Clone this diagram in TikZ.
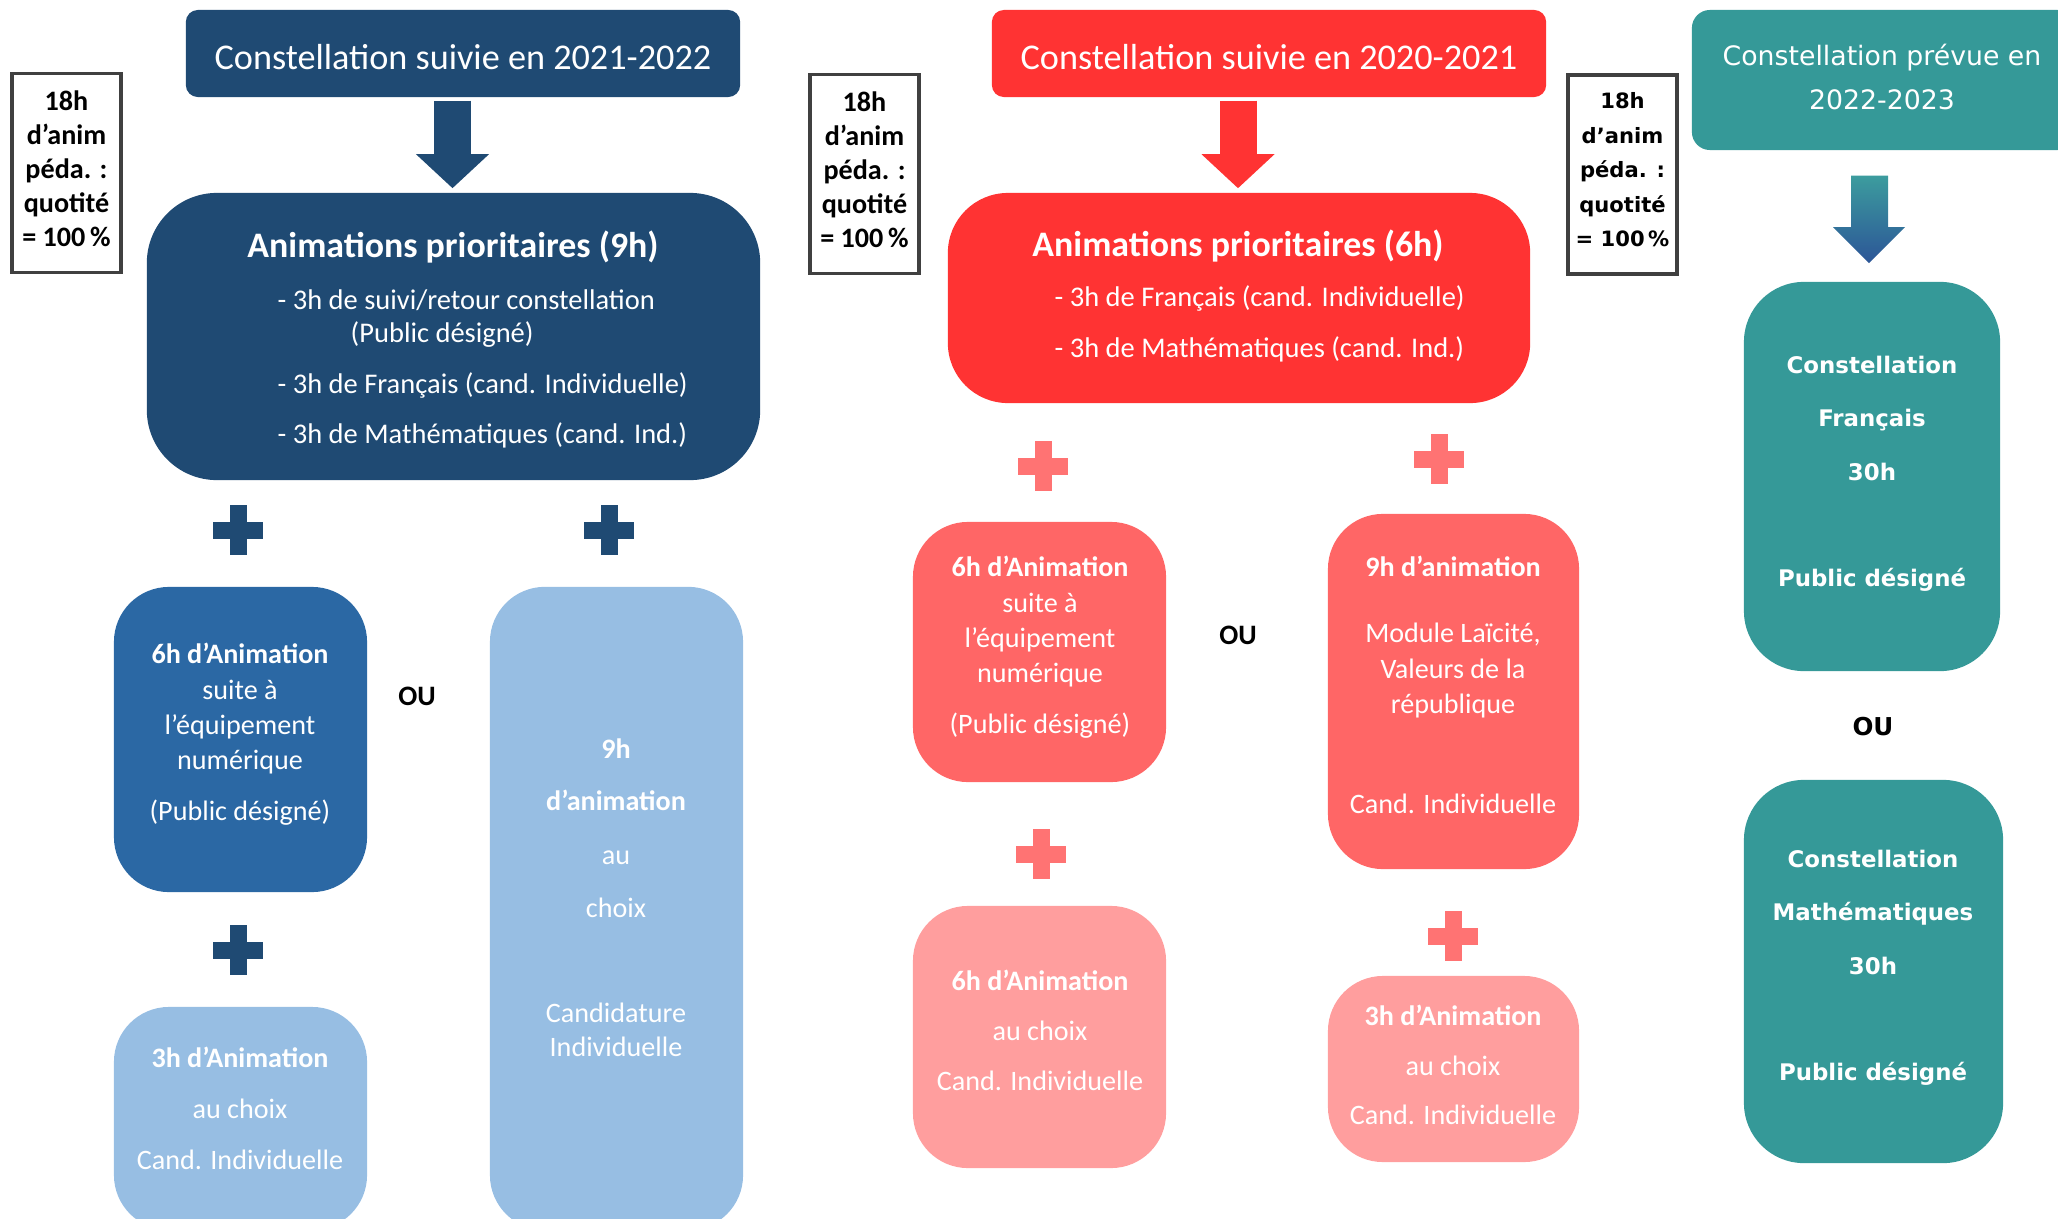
\documentclass[tikz,border=0pt]{standalone}
\usepackage{fontspec}
\setmainfont{Carlito}
\newfontfamily\verdfont{DejaVu Sans}
\usepackage{tikz}
\usetikzlibrary{arrows.meta}
\usetikzlibrary{positioning}

\definecolor{navy}{RGB}{31,74,115}
\definecolor{midblue}{RGB}{43,104,164}
\definecolor{paleblue}{RGB}{151,190,227}
\definecolor{redhead}{RGB}{255,51,51}
\definecolor{redbox}{RGB}{255,102,102}
\definecolor{pinkbox}{RGB}{255,158,158}
\definecolor{redplus}{RGB}{255,115,115}
\definecolor{tealbox}{RGB}{53,153,152}
\definecolor{tealtop}{RGB}{60,156,158}
\definecolor{tealbot}{RGB}{44,85,151}

\newcommand{\fnthead}{\fontsize{10.3}{12}\selectfont}
\newcommand{\fnttitle}{\bfseries\fontsize{10.2}{12}\selectfont}
\newcommand{\fntitem}{\fontsize{8.1}{9.4}\selectfont}
\newcommand{\fntsmall}{\fontsize{8}{10}\selectfont}
\newcommand{\fntquota}{\bfseries\fontsize{8}{9.7}\selectfont}
\newcommand{\fntquotab}{\verdfont\bfseries\fontsize{6}{9.8}\selectfont}
\newcommand{\fnttealhd}{\verdfont\fontsize{7.6}{12.5}\selectfont}
\newcommand{\fntteal}{\verdfont\bfseries\fontsize{6.5}{15.2}\selectfont}

\begin{document}
\begin{tikzpicture}
	[x=0.01cm,y=-0.01cm,
	box/.style={rounded corners=0.55cm,inner sep=0pt},
	headbox/.style={rounded corners=0.12cm,inner sep=0pt},
	quota/.style={draw=black!75,line width=1pt,fill=white,inner sep=0pt,minimum width=1.09cm,minimum height=1.99cm},
	txt/.style={text=white,align=center,inner sep=0pt},
	bigarrow/.style={line width=0.37cm,-{Triangle[length=0.34cm,width=0.71cm]}},
	plusmark/.pic={\fill (-25,-8.5) rectangle (25,8.5); \fill (-8.5,-25) rectangle (8.5,25);}]
	\useasboundingbox (0,0) rectangle (2058,1218);
	
	% 2021-2022
	\node[headbox,fill=navy,minimum width=5.54cm,minimum height=0.87cm] (hdr1) at (463,53.5) {};
	\node[txt,font=\fnthead] (hdr1t) at (463,57) {Constellation suivie en 2021-2022};
	\node[quota] (quota1) at (66.5,173) {};
	\node[font=\fntquota,align=center,inner sep=0pt] (quota1t) at (66.5,169) {18h\\d’anim\\péda. :\\quotité\\= 100\,\%};
	\node[box,rounded corners=0.7cm,fill=navy,minimum width=6.13cm,minimum height=2.87cm] (prio1) at (453.5,336.5) {};
	\node[txt,font=\fnttitle] (prio1h) at (453,247) {Animations prioritaires (9h)};
	\node[txt,font=\fntitem,align=left,anchor=west] (prio1t) at (277,369) {- 3h de suivi/retour constellation\\\hspace{0.73cm}(Public désigné)\\[5.1pt]- 3h de Français (cand. Individuelle)\\[4.8pt]- 3h de Mathématiques (cand. Ind.)};
	\node[box,fill=midblue,minimum width=2.53cm,minimum height=3.05cm] (num1) at (240.5,739.5) {};
	\node[txt,font=\fntsmall] (num1t) at (240,734.5) {\textbf{6h d’Animation}\\suite à\\l’équipement\\numérique\\[4.6pt](Public désigné)};
	\node[box,fill=paleblue,minimum width=2.53cm,minimum height=6.43cm] (choix1) at (616.5,908.5) {};
	\node[txt,font=\fntsmall] (choix1t) at (616,898) {\textbf{9h}\\[4.6pt]\textbf{d’animation}\\[5.4pt]au\\[5.1pt]choix\\[19.9pt]Candidature\\[-0.3pt]Individuelle};
	\node[box,fill=paleblue,minimum width=2.53cm,minimum height=2.23cm] (choix2) at (240.5,1118.5) {};
	\node[txt,font=\fntsmall] (choix2t) at (240,1108) {\textbf{3h d’Animation}\\[4.5pt]au choix\\[4.5pt]Cand. Individuelle};
	\node[font=\fntquota,inner sep=0pt] (ou1) at (417,696) {OU};
	
	% 2020-2021
	\node[headbox,fill=redhead,minimum width=5.54cm,minimum height=0.87cm] (hdr2) at (1269,53.5) {};
	\node[txt,font=\fnthead] (hdr2t) at (1269,57) {Constellation suivie en 2020-2021};
	\node[quota] (quota2) at (864.5,174) {};
	\node[font=\fntquota,align=center,inner sep=0pt] (quota2t) at (864.5,170) {18h\\d’anim\\péda. :\\quotité\\= 100\,\%};
	\node[box,rounded corners=0.6cm,fill=redhead,minimum width=5.82cm,minimum height=2.10cm] (prio2) at (1239,298) {};
	\node[txt,font=\fnttitle] (prio2h) at (1238,246) {Animations prioritaires (6h)};
	\node[txt,font=\fntitem,align=left,anchor=west] (prio2t) at (1054,324) {- 3h de Français (cand. Individuelle)\\[5.3pt]- 3h de Mathématiques (cand. Ind.)};
	\node[box,fill=redbox,minimum width=2.53cm,minimum height=2.60cm] (num2) at (1039.5,652) {};
	\node[txt,font=\fntsmall] (num2t) at (1040,647.5) {\textbf{6h d’Animation}\\suite à\\l’équipement\\numérique\\[4.6pt](Public désigné)};
	\node[box,fill=redbox,minimum width=2.51cm,minimum height=3.55cm] (lai) at (1453.5,691.5) {};
	\node[txt,font=\fntsmall] (lait) at (1453,685) {\textbf{9h d’animation}\\[8.8pt]Module Laïcité,\\Valeurs de la\\république\\[18.5pt]Cand. Individuelle};
	\node[box,fill=pinkbox,minimum width=2.53cm,minimum height=2.62cm] (choix3) at (1039.5,1037) {};
	\node[txt,font=\fntsmall] (choix3t) at (1040,1030.5) {\textbf{6h d’Animation}\\[4.2pt]au choix\\[4.2pt]Cand. Individuelle};
	\node[box,fill=pinkbox,minimum width=2.51cm,minimum height=1.86cm] (choix4) at (1453.5,1069) {};
	\node[txt,font=\fntsmall] (choix4t) at (1453,1065) {\textbf{3h d’Animation}\\[4pt]au choix\\[4pt]Cand. Individuelle};
	\node[font=\fntquota,inner sep=0pt] (ou2) at (1238,635) {OU};
	
	% 2022-2023
	\node[headbox,rounded corners=0.18cm,fill=tealbox,minimum width=3.83cm,minimum height=1.40cm] (hdr3) at (1883.5,80) {};
	\node[txt,font=\fnttealhd] (hdr3t) at (1882,77) {Constellation prévue en\\2022-2023};
	\node[quota] (quota3) at (1622.5,174.5) {};
	\node[font=\fntquotab,align=center,inner sep=0pt] (quota3t) at (1622.5,170) {18h\\d’anim\\péda. :\\quotité\\= 100\,\%};
	\node[box,rounded corners=0.6cm,fill=tealbox,minimum width=2.56cm,minimum height=3.89cm] (fr) at (1872,476.5) {};
	\node[txt,font=\fntteal] (frt) at (1872,473.5) {Constellation\\Français\\30h\\[15pt]Public désigné};
	\node[box,rounded corners=0.6cm,fill=tealbox,minimum width=2.59cm,minimum height=3.83cm] (ma) at (1873.5,971.5) {};
	\node[txt,font=\fntteal] (mat) at (1873,967.5) {Constellation\\Mathématiques\\30h\\[15pt]Public désigné};
	\node[font=\verdfont\bfseries\fontsize{7}{8}\selectfont,inner sep=0pt] (ou3) at (1873,727) {OU};
	
	% arrows and pluses
	\foreach \from/\to/\col in {hdr1/prio1/navy, hdr2/prio2/redhead}
		\draw[bigarrow,\col,shorten <=0.03cm,shorten >=0.04cm] ([xshift=-0.01cm]\to.north |- \from.south) -- ([xshift=-0.01cm]\to.north);
	\coordinate (tealfoot) at (fr.north |- hdr3.south);
	\shade[top color=tealtop,bottom color=tealbot]
		([shift={(-21,25)}]tealfoot) -- ([shift={(16,25)}]tealfoot)
		-- ([shift={(16,-54)}]fr.north) -- ([shift={(33,-54)}]fr.north)
		-- ([shift={(-3,-18)}]fr.north) -- ([shift={(-39,-54)}]fr.north)
		-- ([shift={(-21,-54)}]fr.north) -- cycle;
	\foreach \px/\py in {238/530, 609/530, 238/950}
		\pic[color=navy] at (\px,\py) {plusmark};
	\foreach \px/\py in {1043/466, 1439/459, 1041/854, 1453/936}
		\pic[color=redplus] at (\px,\py) {plusmark};
\end{tikzpicture}
\end{document}
